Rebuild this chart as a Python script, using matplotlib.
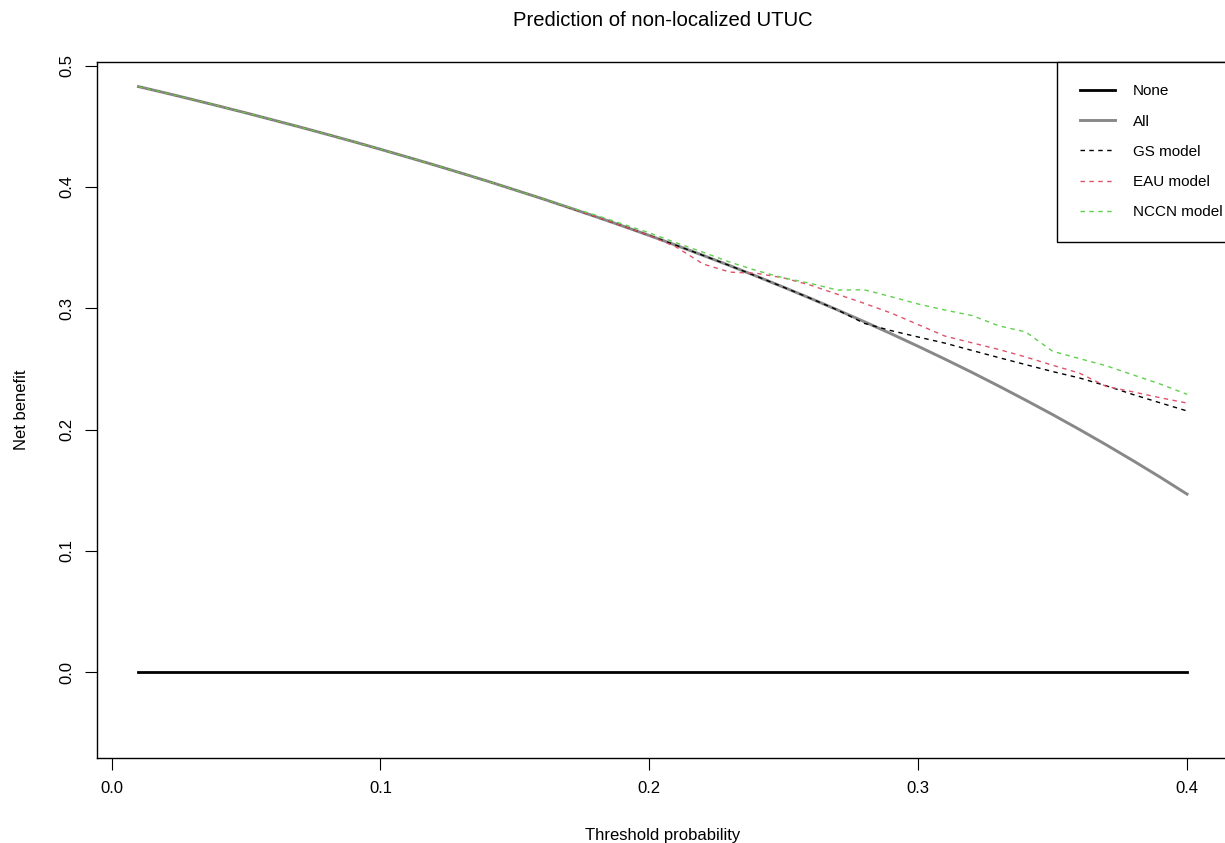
import matplotlib
matplotlib.use("Agg")
import matplotlib.pyplot as plt

plt.rcParams['font.family'] = ['Liberation Sans', 'DejaVu Sans']

# threshold probabilities (x) and net benefit curves
thresholds = [0.01, 0.02, 0.03, 0.04, 0.05, 0.06, 0.07, 0.08, 0.09, 0.10,
              0.11, 0.12, 0.13, 0.14, 0.15, 0.16, 0.17, 0.18, 0.19, 0.20,
              0.21, 0.22, 0.23, 0.24, 0.25, 0.26, 0.27, 0.28, 0.29, 0.30,
              0.31, 0.32, 0.33, 0.34, 0.35, 0.36, 0.37, 0.38, 0.39, 0.40]

net_none = [0.0] * len(thresholds)

net_all = [0.4828, 0.4776, 0.4722, 0.4667, 0.4611, 0.4553, 0.4495, 0.4435, 0.4374, 0.4311,
           0.4247, 0.4182, 0.4115, 0.4047, 0.3976, 0.3905, 0.3831, 0.3756, 0.3679, 0.3600,
           0.3519, 0.3436, 0.3351, 0.3263, 0.3173, 0.3081, 0.2986, 0.2889, 0.2789, 0.2686,
           0.2580, 0.2471, 0.2358, 0.2242, 0.2123, 0.2000, 0.1873, 0.1742, 0.1607, 0.1467]

net_gs = net_all[:27] + [0.2875, 0.2815, 0.2763,
                         0.2712, 0.2652, 0.2593, 0.2535, 0.2478, 0.2425, 0.2360, 0.2288, 0.2220, 0.2153]

net_eau = net_all[:20] + [0.3505, 0.3365, 0.3298, 0.3288, 0.3250, 0.3190, 0.3115, 0.3040, 0.2960, 0.2865,
                          0.2770, 0.2715, 0.2660, 0.2598, 0.2530, 0.2465, 0.2355, 0.2310, 0.2262, 0.2218]

net_nccn = net_all[:16] + [0.3835, 0.3768, 0.3695, 0.3622,
                           0.3540, 0.3462, 0.3380, 0.3310, 0.3250, 0.3205, 0.3150, 0.3152, 0.3095, 0.3035,
                           0.2985, 0.2940, 0.2855, 0.2805, 0.2645, 0.2585, 0.2525, 0.2450, 0.2375, 0.2290]

fig = plt.figure(figsize=(12.25, 8.43), dpi=100)
ax = fig.add_axes([96.5 / 1225, 85.5 / 843, 1132.5 / 1225, 696 / 843])

ax.plot(thresholds, net_none, color='black', lw=2.0, label='None')
ax.plot(thresholds, net_all, color='#888888', lw=2.1, label='All')
ax.plot(thresholds, net_gs, color='black', lw=1.0, dashes=(3.2, 3.2), label='GS model')
ax.plot(thresholds, net_eau, color='#DF536B', lw=1.0, dashes=(3.2, 3.2), label='EAU model')
ax.plot(thresholds, net_nccn, color='#61D04F', lw=1.0, dashes=(3.2, 3.2), label='NCCN model')

ax.set_xlim(-0.0056, 0.4156)
ax.set_ylim(-0.0705, 0.5035)
ax.set_xticks([0.0, 0.1, 0.2, 0.3, 0.4])
ax.set_xticklabels(['0.0', '0.1', '0.2', '0.3', '0.4'])
ax.set_yticks([0.0, 0.1, 0.2, 0.3, 0.4, 0.5])
ax.set_yticklabels(['0.0', '0.1', '0.2', '0.3', '0.4', '0.5'])
ax.tick_params(axis='both', direction='out', length=8.6, width=0.8, labelsize=12, pad=8)
ax.tick_params(axis='y', labelrotation=90, pad=7)
for lab in ax.get_yticklabels():
    lab.set_va('center')
for s in ax.spines.values():
    s.set_linewidth(1.0)

ax.set_xlabel('Threshold probability', fontsize=12, va='baseline')
ax.xaxis.set_label_coords(0.5, -0.1185)
ax.set_ylabel('Net benefit', fontsize=12, va='center')
ax.yaxis.set_label_coords(-0.066, 0.5)

ax.set_title('Prediction of non-localized UTUC', fontsize=14.6, y=1.051, pad=0, va='baseline')

leg = ax.legend(loc='upper left', bbox_to_anchor=(0.848, 1.0), borderaxespad=0,
                fontsize=11, fancybox=False, edgecolor='black', framealpha=1,
                borderpad=1.5, labelspacing=1.06, handlelength=2.3, handletextpad=1.2)
leg.get_frame().set_linewidth(1.0)

fig.savefig('out.png', dpi=100)
